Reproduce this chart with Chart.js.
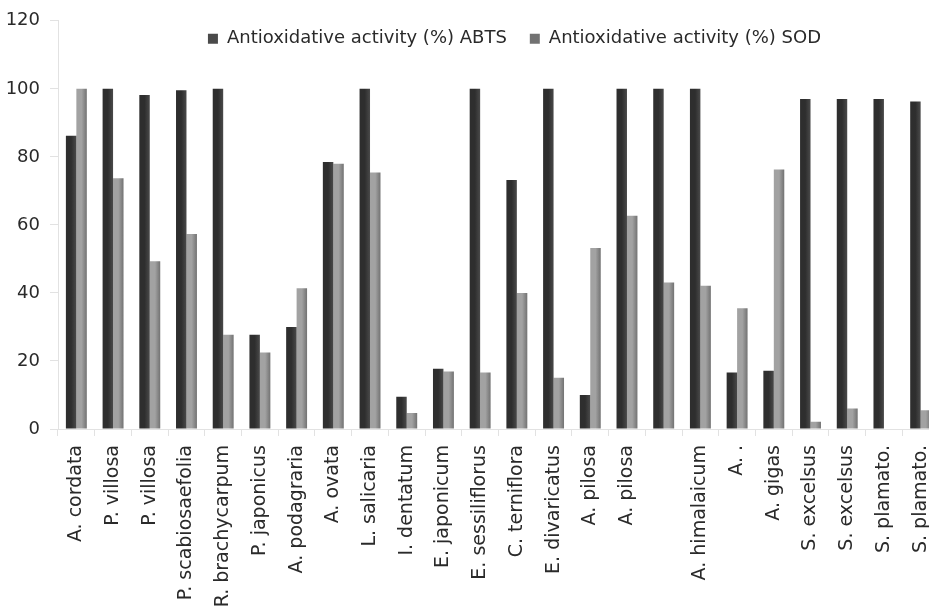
<!DOCTYPE html>
<html>
<head>
<meta charset="utf-8">
<script src="https://cdn.jsdelivr.net/npm/chart.js@4.4.1/dist/chart.umd.min.js"></script>
<style>
  html, body { margin: 0; padding: 0; background: #fff; overflow: hidden; }
</style>
</head>
<body>
<canvas id="myChart" width="940" height="612"></canvas>
<script>
// Données
var plantes = ['A. cordata', 'P. villosa', 'P. villosa', 'P. scabiosaefolia', 'R. brachycarpum',
    'P. japonicus', 'A. podagraria', 'A. ovata', 'L. salicaria', 'I. dentatum', 'E. japonicum',
    'E. sessiliflorus', 'C. terniflora', 'E. divaricatus', 'A. pilosa', 'A. pilosa', '',
    'A. himalaicum', 'A. .', 'A. gigas', 'S. excelsus', 'S. excelsus', 'S. plamato.', 'S. plamato.'];
var abts = [86.2, 100, 98.2, 99.6, 100, 27.7, 30.0, 78.5, 100, 9.5, 17.7, 100,
    73.2, 100, 10.0, 100, 100, 100, 16.6, 17.1, 97.0, 97.0, 97.0, 96.3];
var sod = [100, 73.7, 49.3, 57.3, 27.7, 22.5, 41.4, 78.0, 75.4, 4.7, 16.9, 16.6,
    40.0, 15.1, 53.2, 62.7, 43.1, 42.1, 35.5, 76.3, 2.1, 6.0, 0, 5.5];
var nomsSeries = ['Antioxidative activity (%) ABTS', 'Antioxidative activity (%) SOD'];
var yMax = 120;
var yPas = 20;

var police = "'DejaVu Sans', sans-serif";
var couleurTexte = '#2a2a2a';
var couleurAxe = '#e2e2e2';
var partCategorie = 0.57;

// dégradé horizontal pour imiter le relief des barres Excel
function degrade(gauche, droite, cote) {
    return function (context) {
        var chart = context.chart;
        var x = chart.scales.x;
        if (context.type !== 'data' || !x) return gauche;
        var centre = x.getPixelForValue(context.dataIndex);
        var largeur = x.width / plantes.length * partCategorie / 2;
        if (!isFinite(centre) || !isFinite(largeur) || largeur <= 0) return gauche;
        var x0 = cote < 0 ? centre - largeur : centre;
        var g = chart.ctx.createLinearGradient(x0, 0, x0 + largeur, 0);
        g.addColorStop(0, gauche);
        g.addColorStop(0.5, gauche);
        g.addColorStop(1, droite);
        return g;
    };
}

// la légende chevauche le haut du graphique et est décalée vers la droite, comme sur l'original
var placerLegende = {
    id: 'placerLegende',
    afterLayout: function (chart) {
        var lg = chart.legend;
        lg.left += 45;
        lg.right += 45;
        lg.bottom = lg.top + 50;
        lg.height = 50;
    }
};

var ctx = document.getElementById('myChart').getContext('2d');
var myChart = new Chart(ctx, {
    type: 'bar',
    data: {
        labels: plantes,
        datasets: [{
            label: nomsSeries[0],
            data: abts,
            backgroundColor: degrade('#2e2e2e', '#4a4a4a', -1),
            borderWidth: 0
        }, {
            label: nomsSeries[1],
            data: sod,
            backgroundColor: degrade('#a2a2a2', '#727272', 1),
            borderWidth: 0
        }]
    },
    plugins: [placerLegende],
    options: {
        responsive: false,
        animation: false,
        categoryPercentage: partCategorie,
        barPercentage: 1,
        layout: { padding: { left: 0, right: 1, top: 0, bottom: 0 } },
        plugins: {
            tooltip: { enabled: false },
            legend: {
                position: 'top',
                maxHeight: 14,
                labels: {
                    boxWidth: 10,
                    boxHeight: 10,
                    padding: 23,
                    color: couleurTexte,
                    font: { family: police, size: 18 }
                }
            }
        },
        scales: {
            x: {
                afterFit: function (s) {
                    s.height = 183;
                    s.paddingLeft = 0;
                    s.paddingRight = 0;
                },
                border: { color: couleurAxe },
                grid: { offset: true, drawOnChartArea: false, drawTicks: true, tickLength: 7, color: couleurAxe },
                ticks: {
                    autoSkip: false,
                    maxRotation: 90,
                    minRotation: 90,
                    padding: 9,
                    color: couleurTexte,
                    font: { family: police, size: 19 }
                }
            },
            y: {
                min: 0,
                max: yMax,
                afterFit: function (s) { s.width = 58; },
                border: { color: couleurAxe },
                grid: { drawOnChartArea: false, drawTicks: true, tickLength: 8, color: couleurAxe },
                ticks: {
                    stepSize: yPas,
                    padding: 10,
                    color: couleurTexte,
                    font: { family: police, size: 18 }
                }
            }
        }
    }
});
</script>
</body>
</html>
